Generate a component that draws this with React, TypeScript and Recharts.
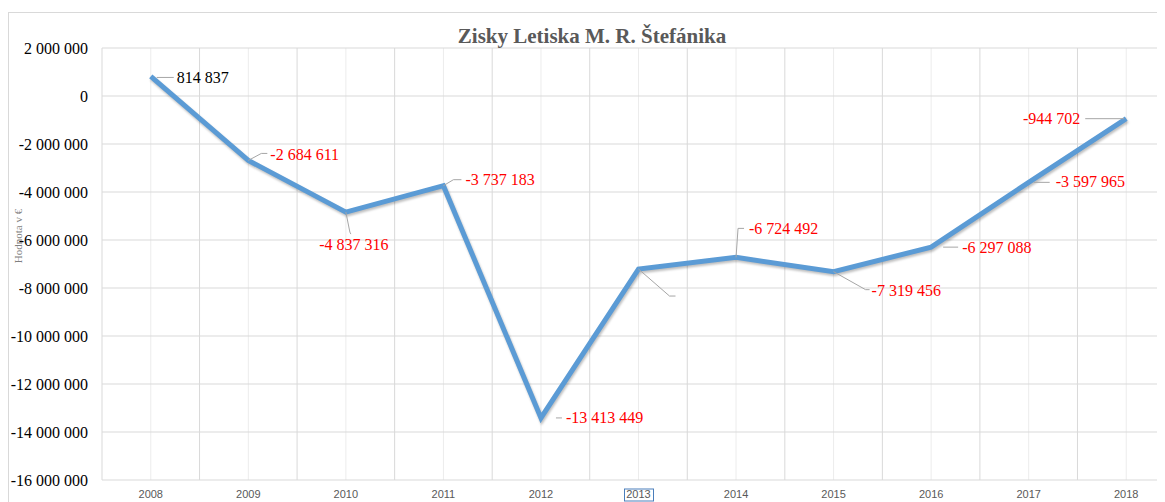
import { LineChart, Line, XAxis, YAxis, CartesianGrid, LabelList } from 'recharts'

const years = ['2008', '2009', '2010', '2011', '2012', '2013', '2014', '2015', '2016', '2017', '2018']
const profits = [814837, -2684611, -4837316, -3737183, -13413449, -7210000, -6724492, -7319456, -6297088, -3597965, -944702]
// the 2013 label is lost in the original, only its leader line is left
const labelShown = [true, true, true, true, true, false, true, true, true, true, true]
const yTicks = [2000000, 0, -2000000, -4000000, -6000000, -8000000, -10000000, -12000000, -14000000, -16000000]

const data = years.map((year, i) => ({ year, profit: profits[i], shown: labelShown[i] }))

// where each data label sits relative to its point (leader line + text)
const labelPlacement = [
  { line: [[6, 1], [23, 1]], dx: 26, dy: 1, anchor: 'start' },
  { line: [[0, 0], [13, -7], [19, -7]], dx: 22, dy: -6, anchor: 'start' },
  { line: [[0, 0], [4, 20], [5, 22]], dx: 8, dy: 32, anchor: 'middle' },
  { line: [[0, 0], [10, -6], [18, -6]], dx: 22, dy: -6, anchor: 'start' },
  { line: [[15, 0], [21, 0]], dx: 25, dy: 0, anchor: 'start' },
  { line: [[0, 0], [31, 27], [37, 27]], dx: 40, dy: 27, anchor: 'start' },
  { line: [[0, 0], [2, -29], [8, -29]], dx: 13, dy: -29, anchor: 'start' },
  { line: [[0, 0], [32, 18], [36, 18]], dx: 38, dy: 19, anchor: 'start' },
  { line: [[12, 0], [27, 0]], dx: 31, dy: 0, anchor: 'start' },
  { line: [[5, 0], [21, 0]], dx: 27, dy: -1, anchor: 'start' },
  { line: [[-2, 0], [-41, 0]], dx: -46, dy: 0, anchor: 'end' },
]

const fmt = (v: number) => {
  const s = Math.abs(v).toString().replace(/\B(?=(\d{3})+(?!\d))/g, ' ')
  return (v < 0 ? '-' : '') + s
}

const DataLabel = (props: any) => {
  const { x, y, index, value } = props
  const p = labelPlacement[index]
  if (!p) return null
  const pts = p.line.map(([a, b]) => `${x + a},${y + b}`).join(' ')
  return (
    <g>
      <polyline points={pts} fill="none" stroke="#a6a6a6" strokeWidth={1} />
      {labelShown[index] && (
        <text
          x={x + p.dx}
          y={y + p.dy}
          textAnchor={p.anchor}
          dominantBaseline="central"
          fontFamily="'Liberation Serif', 'Times New Roman', serif"
          fontSize={16}
          fill={value < 0 ? '#ff0000' : '#000000'}
        >
          {fmt(value)}
        </text>
      )}
    </g>
  )
}

const YearTick = (props: any) => {
  const { x, y, payload, index } = props
  return (
    <g>
      <text x={x} y={y + 10} textAnchor="middle" fontFamily="'Liberation Sans', Arial, sans-serif" fontSize={11} fill="#595959">
        {payload.value}
      </text>
      {index === 5 && <rect x={x - 14} y={y + 1} width={29} height={12} fill="none" stroke="#4a7ebb" strokeWidth={1} />}
    </g>
  )
}

const boundaries = ({ offset }: any) => {
  const band = offset.width / years.length
  return years.map((_, i) => offset.left + i * band).concat([offset.left + offset.width])
}

const centers = ({ offset }: any) => {
  const band = offset.width / years.length
  return years.map((_, i) => offset.left + i * band + band / 2)
}

export default function App() {
  return (
    <div style={{ position: 'relative', width: 1157, height: 494, overflow: 'hidden' }}>
      <style>{'body{overflow:hidden}'}</style>
      <div style={{ position: 'absolute', left: 0, top: 4, right: 0, bottom: 0, borderTop: '1px solid #d9d9d9', borderLeft: '1px solid #d9d9d9' }} />
      <LineChart width={1170} height={502} data={data} margin={{ top: 40, right: 3, left: 0, bottom: 0 }} style={{ position: 'absolute', left: 0, top: 0 }}>
        <CartesianGrid stroke="#ececec" horizontal={false} verticalCoordinatesGenerator={centers} />
        <CartesianGrid stroke="#d9d9d9" verticalCoordinatesGenerator={boundaries} />
        <XAxis dataKey="year" scale="band" axisLine={false} tickLine={false} height={30} interval={0} tick={<YearTick />} />
        <YAxis
          type="number"
          domain={[-16000000, 2000000]}
          ticks={yTicks}
          interval={0}
          width={94}
          axisLine={false}
          tickLine={false}
          tickMargin={8}
          tickFormatter={fmt}
          tick={{ fill: '#000000', fontSize: 16, fontFamily: "'Liberation Serif', 'Times New Roman', serif" }}
        />
        <Line
          type="linear"
          dataKey="profit"
          stroke="#5b9bd5"
          strokeWidth={5}
          dot={false}
          isAnimationActive={false}
          style={{ filter: 'drop-shadow(1px 2px 1px rgba(0,0,0,0.25))' }}
        >
          <LabelList dataKey="profit" content={<DataLabel />} />
        </Line>
      </LineChart>
      <div style={{ position: 'absolute', top: 16, left: 0, width: 1168, textAlign: 'center', font: "bold 21px 'Liberation Serif', 'Times New Roman', serif", color: '#595959', lineHeight: '24px' }}>
        Zisky Letiska M. R. Štefánika
      </div>
      <div style={{ position: 'absolute', left: 10, top: 228, transform: 'translate(-50%, -50%) rotate(-90deg)', font: "11px 'Liberation Serif', 'Times New Roman', serif", color: '#7f7f7f', whiteSpace: 'nowrap' }}>
        Hodnota v €
      </div>
    </div>
  )
}
